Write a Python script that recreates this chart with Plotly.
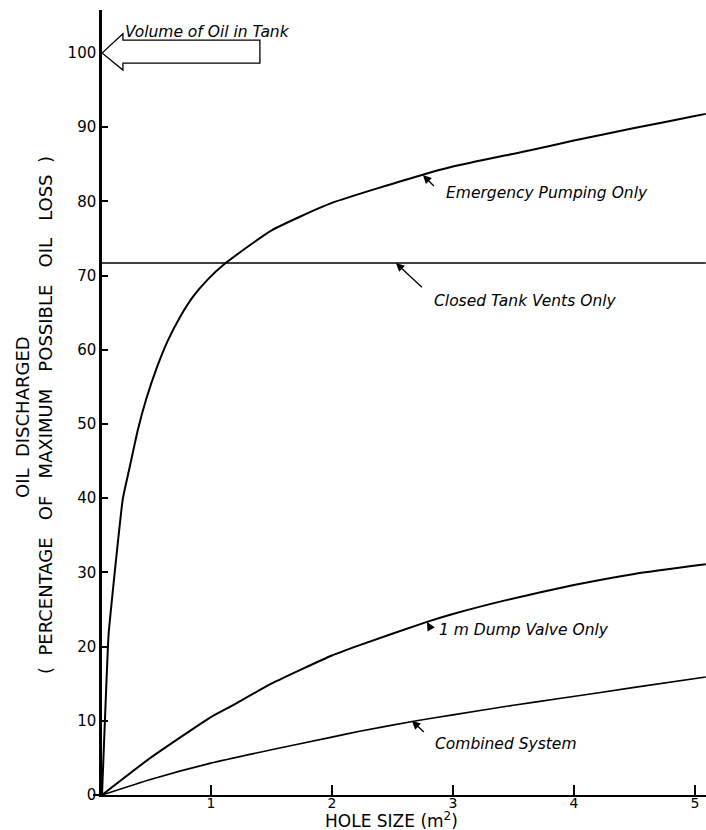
import plotly.graph_objects as go

# ---- data ----
emergency_x = [0.10, 0.124, 0.149, 0.157, 0.207, 0.273, 0.325, 0.399, 0.468, 0.551, 0.643, 0.744, 0.854, 0.975, 1.107, 1.502, 2.0, 2.75, 3.0, 3.64, 4.0, 4.5, 5.0, 5.09]
emergency_y = [0.0, 10.0, 20.0, 22.2, 30.3, 40.0, 43.9, 49.4, 53.5, 57.5, 61.2, 64.4, 67.2, 69.5, 71.5, 76.1, 79.8, 83.6, 84.7, 86.9, 88.2, 89.9, 91.5, 91.8]

vents_x = [0.10, 5.09]
vents_y = [71.7, 71.7]

dump_x = [0.10, 0.5, 1.0, 1.16, 1.5, 2.0, 2.23, 2.78, 3.0, 3.45, 4.0, 4.5, 5.09]
dump_y = [0.0, 5.0, 10.5, 11.9, 15.0, 18.8, 20.2, 23.3, 24.4, 26.3, 28.3, 29.8, 31.1]

combined_x = [0.10, 0.5, 1.0, 1.5, 2.0, 2.23, 2.7, 3.0, 3.5, 3.88, 4.5, 5.09]
combined_y = [0.0, 2.1, 4.3, 6.1, 7.8, 8.6, 10.0, 10.8, 12.1, 13.0, 14.5, 15.9]

x_ticks = [1, 2, 3, 4, 5]
y_ticks = [0, 10, 20, 30, 40, 50, 60, 70, 80, 90, 100]

FONT = "DejaVu Sans"
fig = go.Figure()

def add_curve(x, y, w):
    fig.add_trace(go.Scatter(x=x, y=y, mode="lines",
                             line=dict(color="black", width=w, shape="spline", smoothing=0.5),
                             showlegend=False, hoverinfo="skip"))

add_curve(emergency_x, emergency_y, 2)
add_curve(vents_x, vents_y, 1.5)
add_curve(dump_x, dump_y, 2)
add_curve(combined_x, combined_y, 1.6)

fig.update_layout(
    width=706, height=830,
    margin=dict(l=102, r=0, t=10, b=35),
    paper_bgcolor="white", plot_bgcolor="white",
    font=dict(family=FONT, color="black", size=15),
    xaxis=dict(range=[0.1, 5.092], tickvals=x_ticks, ticks="inside", ticklen=10, tickwidth=1.5,
               tickcolor="black", showline=True, linecolor="black", linewidth=2, showgrid=False,
               zeroline=False, tickfont=dict(size=14, family=FONT), ticklabelstandoff=-6),
    yaxis=dict(range=[0, 105.8], tickvals=y_ticks, ticks="inside", ticklen=6, tickwidth=1.5,
               tickcolor="black", showline=True, linecolor="black", linewidth=2.5, showgrid=False,
               zeroline=False, tickfont=dict(size=15, family=FONT)),
)

ann_font = dict(family=FONT, size=15.5, color="black", style="italic")

def label(text, x, y):
    fig.add_annotation(x=x, y=y, text=text, showarrow=False, xanchor="left", yanchor="middle", font=ann_font)

def pointer(x, y, ax, ay):
    fig.add_annotation(x=x, y=y, text=" ", showarrow=True, ax=ax, ay=ay, arrowhead=2, arrowsize=1.3,
                       arrowwidth=1.3, arrowcolor="black", standoff=0)

label("Emergency Pumping Only", 2.926, 81.1)
pointer(2.752, 83.56, 15, 15)
label("Closed Tank Vents Only", 2.826, 66.6)
pointer(2.529, 71.7, 30, 28)
label("1 m Dump Valve Only", 2.868, 22.24)
pointer(2.785, 23.3, 6, 10)
label("Combined System", 2.835, 6.87)
pointer(2.661, 10.0, 16, 15)
label("Volume of Oil in Tank", 0.275, 102.9)

# hollow arrow pointing to 100 %
fig.add_shape(type="path", xref="x", yref="y",
              path="M 0.10 100 L 0.273 102.6 L 0.273 101.75 L 1.405 101.75 L 1.405 98.65 L 0.273 98.65 L 0.273 97.7 Z",
              line=dict(color="black", width=1.3), fillcolor="white")

# x-axis line stub to the left of the y-axis
fig.add_shape(type="line", xref="paper", yref="paper", x0=-9 / 604, x1=0, y0=0, y1=0,
              line=dict(color="black", width=2))

# axis titles
fig.add_annotation(xref="paper", yref="paper", x=(391 - 102) / 604, y=-25 / 785,
                   text="HOLE SIZE (m<sup>2</sup>)", showarrow=False, xanchor="center", yanchor="middle",
                   font=dict(family=FONT, size=17))
fig.add_annotation(xref="paper", yref="paper", x=(22 - 102) / 604, y=(795 - 417) / 785,
                   text="OIL  DISCHARGED", showarrow=False, textangle=-90, xanchor="center", yanchor="middle",
                   font=dict(family=FONT, size=18))
fig.add_annotation(xref="paper", yref="paper", x=(45 - 102) / 604, y=(795 - 415) / 785,
                   text="(  PERCENTAGE   OF   MAXIMUM   POSSIBLE   OIL   LOSS  )", showarrow=False, textangle=-90,
                   xanchor="center", yanchor="middle", font=dict(family=FONT, size=18))

# remove the default 8px page margin so the 706x830 figure fills the window
fig.write_html("out.html", config={"displayModeBar": False},
               post_script="document.body.style.margin='0';document.body.style.overflow='hidden';")
